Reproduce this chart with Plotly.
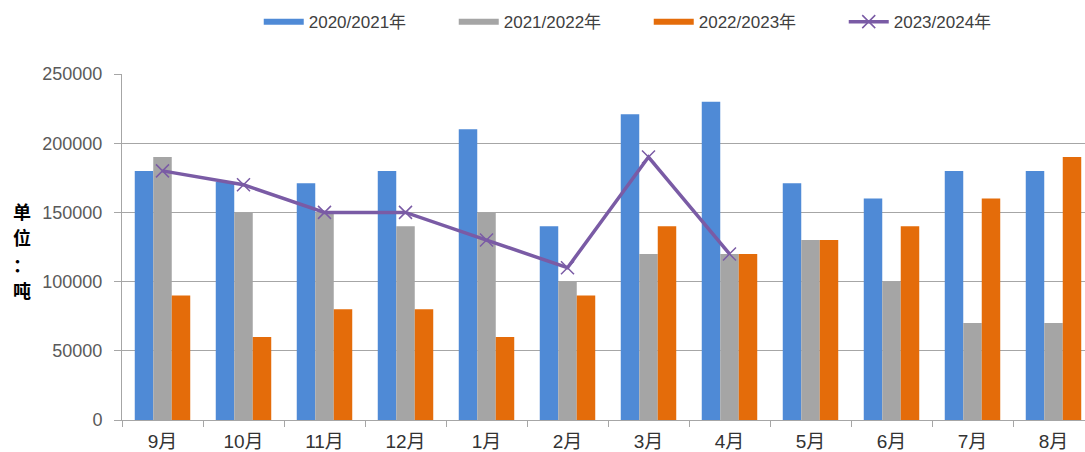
import plotly.graph_objects as go

# Monthly volumes (tonnes) per season, September through August
months = ["9月", "10月", "11月", "12月", "1月", "2月", "3月", "4月", "5月", "6月", "7月", "8月"]
season_2020_21 = [180000, 172000, 171000, 180000, 210000, 140000, 221000, 230000, 171000, 160000, 180000, 180000]
season_2021_22 = [190000, 150000, 150000, 140000, 150000, 100000, 120000, 120000, 130000, 100000, 70000, 70000]
season_2022_23 = [90000, 60000, 80000, 80000, 60000, 90000, 140000, 120000, 130000, 140000, 160000, 190000]
season_2023_24 = [180000, 170000, 150000, 150000, 130000, 110000, 190000, 120000]

names = ["2020/2021年", "2021/2022年", "2022/2023年", "2023/2024年"]
colors = ["#4F8AD6", "#A5A5A5", "#E46C0A", "#7A5BA5"]
y_ticks = [0, 50000, 100000, 150000, 200000, 250000]
unit_label = "单位：吨"

fig = go.Figure()

for name, vals, col in zip(names[:3], [season_2020_21, season_2021_22, season_2022_23], colors[:3]):
    fig.add_trace(go.Bar(x=months, y=vals, name=name, marker=dict(color=col, line=dict(width=0)),
                         showlegend=False))

# legend keys for the bar series drawn as thick strokes
for name, col in zip(names[:3], colors[:3]):
    fig.add_trace(go.Scatter(x=[None], y=[None], mode="lines", name=name,
                             line=dict(color=col, width=6), hoverinfo="skip"))

fig.add_trace(go.Scatter(x=months[:len(season_2023_24)], y=season_2023_24, name=names[3],
                         mode="lines+markers",
                         line=dict(color=colors[3], width=3.5),
                         marker=dict(symbol="x-thin", size=13, color=colors[3],
                                     line=dict(width=1.5, color=colors[3]))))

# vertical unit label, one character per row
unit_annotations = []
for i, ch in enumerate(unit_label):
    unit_annotations.append(dict(
        text=f"<b>{ch}</b>", xref="paper", yref="paper",
        x=-0.104, y=0.604 - i * 0.076, xanchor="center", yanchor="middle",
        showarrow=False, borderpad=0,
        font=dict(size=18, color="#000000", family="Noto Sans CJK SC")))

fig.update_layout(
    width=1085, height=452,
    margin=dict(l=122, r=0, t=74, b=32, autoexpand=False),
    paper_bgcolor="white", plot_bgcolor="white",
    barmode="group", bargap=0.315, bargroupgap=0,
    font=dict(family="Liberation Sans, Noto Sans CJK SC", color="#404040"),
    legend=dict(orientation="h", x=0.142, y=1.15, xanchor="left", yanchor="middle",
                font=dict(size=17, color="#404040"), itemwidth=40,
                entrywidth=140, entrywidthmode="pixels", bgcolor="rgba(0,0,0,0)"),
    xaxis=dict(type="category", categoryorder="array", categoryarray=months,
               range=[-0.5, -0.5 + 963 / 81], showgrid=False,
               showline=True, linecolor="#A6A6A6", linewidth=1,
               ticks="outside", tickson="boundaries", ticklen=6, tickcolor="#A6A6A6",
               ticklabelstandoff=4,
               tickfont=dict(size=19, color="#333333", family="Liberation Sans, Noto Sans CJK SC")),
    yaxis=dict(range=[0, 250000], tickvals=y_ticks, ticktext=[str(v) for v in y_ticks],
               showgrid=True, gridcolor="#A6A6A6", gridwidth=1,
               showline=True, linecolor="#A6A6A6", linewidth=1,
               ticks="outside", ticklen=7, tickcolor="#A6A6A6", ticklabelstandoff=8,
               tickfont=dict(size=18, color="#595959"), zeroline=False),
    annotations=unit_annotations,
)

fig.write_html("out.html")
